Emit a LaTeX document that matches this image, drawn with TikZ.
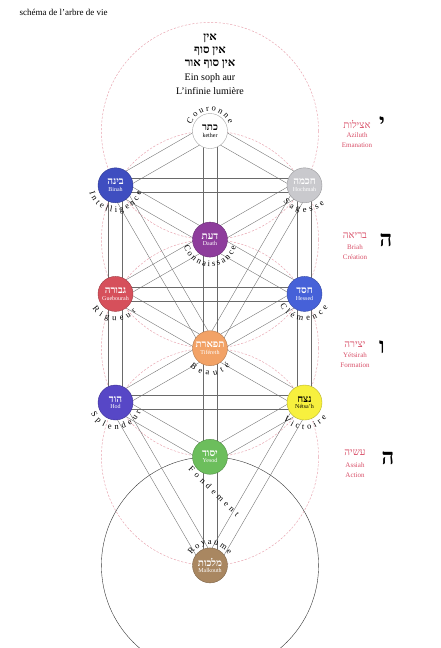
\documentclass[tikz,border=0pt]{standalone}
\usepackage{fontspec}
\setmainfont{Liberation Serif}
\newfontfamily\hebfont[Script=Hebrew]{Liberation Serif}
\TeXXeTstate=1
\usetikzlibrary{calc,decorations.text,backgrounds}

\definecolor{rosecercle}{HTML}{E8A2AE}
\definecolor{rosetexte}{HTML}{D94F68}
\definecolor{trait}{HTML}{6A6A6A}
\definecolor{kethercol}{HTML}{FFFFFF}
\definecolor{binahcol}{HTML}{3F4EC0}
\definecolor{hochmahcol}{HTML}{C9C9CD}
\definecolor{daathcol}{HTML}{8E3D9C}
\definecolor{gueburahcol}{HTML}{D6505B}
\definecolor{hessedcol}{HTML}{4661D8}
\definecolor{tiferetcol}{HTML}{F2A266}
\definecolor{hodcol}{HTML}{5747C6}
\definecolor{netsahcol}{HTML}{F7F03E}
\definecolor{yesodcol}{HTML}{6CBE5C}
\definecolor{malkuthcol}{HTML}{A98761}

\newcommand{\heb}[1]{{\hebfont\beginR #1\endR}}
\newcommand{\nomheb}[1]{{\fontsize{10}{10.5}\selectfont\bfseries\hebfont\beginR #1\endR}}
\newcommand{\etiq}{\fontsize{8.5}{8.5}\selectfont}
% deux traits paralleles entre deux sephiroth
\newcommand{\canal}[2]{%
  \draw[canal] ($(#1.center)!7pt!90:(#2.center)$) -- ($(#2.center)!7pt!-90:(#1.center)$);
  \draw[canal] ($(#1.center)!7pt!-90:(#2.center)$) -- ($(#2.center)!7pt!90:(#1.center)$);}
% nom courbe autour d'une sephira
\newcommand{\vertu}[5]{%
  \path[decorate, decoration={text along path, text align={fit to path}, text={|\etiq|#5}}]
    (#1.center) ++(#3:#2pt) arc[start angle=#3, end angle=#4, radius=#2pt];}

\tikzset{
  sefira/.style={circle, minimum size=35pt, inner sep=0pt, fill=#1, draw=#1!75!black,
    line width=0.4pt, text=white, align=center, font=\fontsize{6}{6.5}\selectfont},
  canal/.style={draw=trait, line width=0.35pt},
  cerclerose/.style={draw=rosecercle, line width=0.45pt, dash pattern=on 2.2pt off 1.6pt},
  cerclenoir/.style={draw=black!80, line width=0.4pt},
  ensof/.style={font=\fontsize{11.5}{11.5}\selectfont\bfseries},
  ensoffr/.style={font=\fontsize{10}{10}\selectfont},
  monde/.style={text=rosetexte, font=\fontsize{10}{10}\selectfont},
  mondefr/.style={text=rosetexte, align=center, font=\fontsize{7}{9.5}\selectfont},
  lettre/.style={font=\fontsize{22}{22}\selectfont\bfseries}
}

\begin{document}
\begin{tikzpicture}[x=1pt, y=1pt]
\useasboundingbox (0,0) rectangle (440,-648);

\node[anchor=west, font=\fontsize{9}{9}\selectfont] (titre) at (16,-12) {schéma de l'arbre de vie};

% Ein soph
\node[ensof] (ain) at (210,-38) {\heb{אין}};
\node[ensof] (ainsof) at (210,-51) {\heb{אין סוף}};
\node[ensof] (ainsofor) at (210,-64) {\heb{אין סוף אור}};
\node[ensoffr] (einsoph) at (210,-78) {Ein soph aur};
\node[ensoffr] (infinie) at (210,-91) {L'infinie lumière};

% les sephiroth
\node[sefira=kethercol, draw=gray!70, text=black] (kether) at (210,-131) {\nomheb{כתר}\\kether};
\node[sefira=binahcol] (binah) at (115.5,-185.3) {\nomheb{בינה}\\Binah};
\node[sefira=hochmahcol] (hochmah) at (304.5,-185.3) {\nomheb{חכמה}\\Hochmah};
\node[sefira=daathcol] (daath) at (210,-239.6) {\nomheb{דעת}\\Daath};
\node[sefira=gueburahcol] (gueburah) at (115.5,-293.9) {\nomheb{גבורה}\\Guebourah};
\node[sefira=hessedcol] (hessed) at (304.5,-293.9) {\nomheb{חסד}\\Hessed};
\node[sefira=tiferetcol] (tiferet) at (210,-348.2) {\nomheb{תפארת}\\Tiféreth};
\node[sefira=hodcol] (hod) at (115.5,-402.5) {\nomheb{הוד}\\Hod};
\node[sefira=netsahcol, text=black] (netsah) at (304.5,-402.5) {\nomheb{נצח}\\Nétsa'h};
\node[sefira=yesodcol] (yesod) at (210,-456.8) {\nomheb{יסוד}\\Yesod};
\node[sefira=malkuthcol] (malkuth) at (210,-565.4) {\nomheb{מלכות}\\Malkouth};

\begin{pgfonlayer}{background}
  \fill[white] (0,0) rectangle (440,-648);
  % cercles
  \draw[cerclerose] (kether.center) circle[radius=108.6pt];
  \draw[cerclerose] (daath.center) circle[radius=108.6pt];
  \draw[cerclerose] (tiferet.center) circle[radius=108.6pt];
  \draw[cerclerose] (yesod.center) circle[radius=108.6pt];
  \draw[cerclenoir] (malkuth.center) circle[radius=108.6pt];
  % sentiers
  \canal{kether}{binah}
  \canal{kether}{hochmah}
  \canal{kether}{daath}
  \canal{daath}{tiferet}
  \canal{binah}{hochmah}
  \canal{binah}{gueburah}
  \canal{hochmah}{hessed}
  \canal{binah}{tiferet}
  \canal{hochmah}{tiferet}
  \canal{binah}{hessed}
  \canal{hochmah}{gueburah}
  \canal{gueburah}{hessed}
  \canal{gueburah}{hod}
  \canal{hessed}{netsah}
  \canal{gueburah}{netsah}
  \canal{hessed}{hod}
  \canal{tiferet}{yesod}
  \canal{hod}{netsah}
  \canal{hod}{yesod}
  \canal{netsah}{yesod}
  \canal{hod}{malkuth}
  \canal{netsah}{malkuth}
  \canal{yesod}{malkuth}
\end{pgfonlayer}

% les vertus
\vertu{kether}{20}{160}{20}{Couronne}
\vertu{binah}{27}{195}{345}{Intelligence}
\vertu{hochmah}{27}{218}{318}{Sagesse}
\vertu{daath}{27}{195}{345}{Connaissance}
\vertu{gueburah}{27}{212}{320}{Rigueur}
\vertu{hessed}{27}{205}{330}{Clémence}
\vertu{tiferet}{27}{222}{318}{Beauté}
\vertu{hod}{27}{205}{340}{Splendeur}
\vertu{netsah}{27}{218}{325}{Victoire}
\vertu{malkuth}{21}{150}{30}{Royaume}
\path[decorate, decoration={text along path, text align={fit to path}, text={|\etiq|Fondement}}]
  ($(yesod.center)+(-22,-13)$) -- ($(yesod.center)+(26,-60)$);

% les quatre mondes
\node[monde] (atsilout) at (357,-124) {\heb{אצילות}};
\node[mondefr] (atsiloutfr) at (357,-140) {Aziluth\\Emanation};
\node[lettre] (yod) at (382,-123) {\heb{י}};

\node[monde] (briah) at (355,-236) {\heb{בריאה}};
\node[mondefr] (briahfr) at (355,-252) {Briah\\Création};
\node[lettre] (he1) at (386,-240) {\heb{ה}};

\node[monde] (yetsirah) at (355,-345) {\heb{יצירה}};
\node[mondefr] (yetsirahfr) at (355,-360) {Yétsirah\\Formation};
\node[lettre] (vav) at (382,-347) {\heb{ו}};

\node[monde] (assiah) at (355,-453) {\heb{עשיה}};
\node[mondefr] (assiahfr) at (355,-470) {Assiah\\Action};
\node[lettre] (he2) at (388,-458) {\heb{ה}};
\end{tikzpicture}
\end{document}
